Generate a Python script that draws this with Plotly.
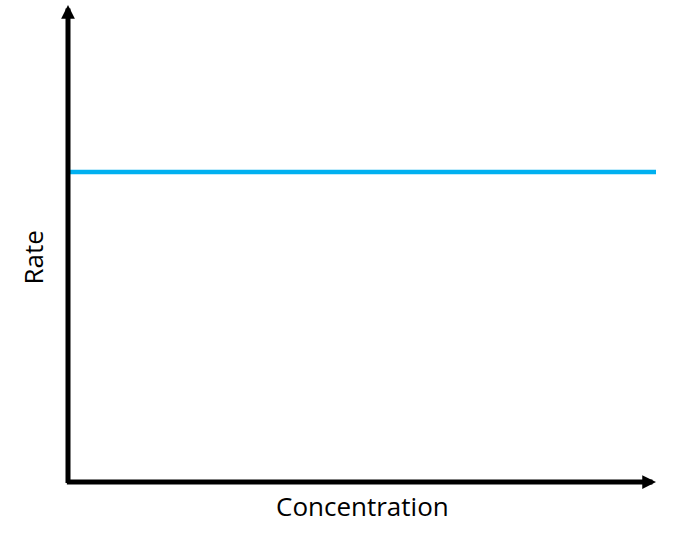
import plotly.graph_objects as go

# rate stays the same whatever the concentration (zero order)
concentration = [0.0, 1.0]
rate = [0.65, 0.65]
x_label = "Concentration"
y_label = "Rate"

fig = go.Figure()
fig.add_scatter(
    x=concentration,
    y=rate,
    mode="lines",
    line=dict(color="#00B0F0", width=4.5),
    showlegend=False,
    hoverinfo="skip",
)

# axes drawn as thick black arrows
axis_style = dict(
    xref="x", yref="y", axref="x", ayref="y",
    text="", showarrow=True, arrowhead=2,
    arrowwidth=5, arrowsize=0.55, arrowcolor="black",
)
fig.add_annotation(x=1, y=0, ax=-0.0045, ay=0, **axis_style)
fig.add_annotation(x=0, y=1, ax=0, ay=-0.0055, **axis_style)

label_font = dict(family="Open Sans", size=26, color="black")
fig.add_annotation(
    x=0.5, y=-0.05, xref="paper", yref="paper",
    text=x_label, showarrow=False, font=label_font,
    xanchor="center", yanchor="middle",
)
fig.add_annotation(
    x=-0.06, y=0.47, xref="paper", yref="paper",
    text=y_label, showarrow=False, font=label_font, textangle=-90,
    xanchor="center", yanchor="middle",
)

fig.update_xaxes(range=[0, 1], visible=False)
fig.update_yaxes(range=[0, 1], visible=False)
fig.update_layout(
    width=674,
    height=538,
    margin=dict(l=68, r=18, t=5, b=56),
    plot_bgcolor="white",
    paper_bgcolor="white",
)

# drop the page's default body margin so the figure sits at the window corner
fig.write_html(
    "out.html",
    config={"displayModeBar": False},
    post_script="document.body.style.margin = '0';",
)
